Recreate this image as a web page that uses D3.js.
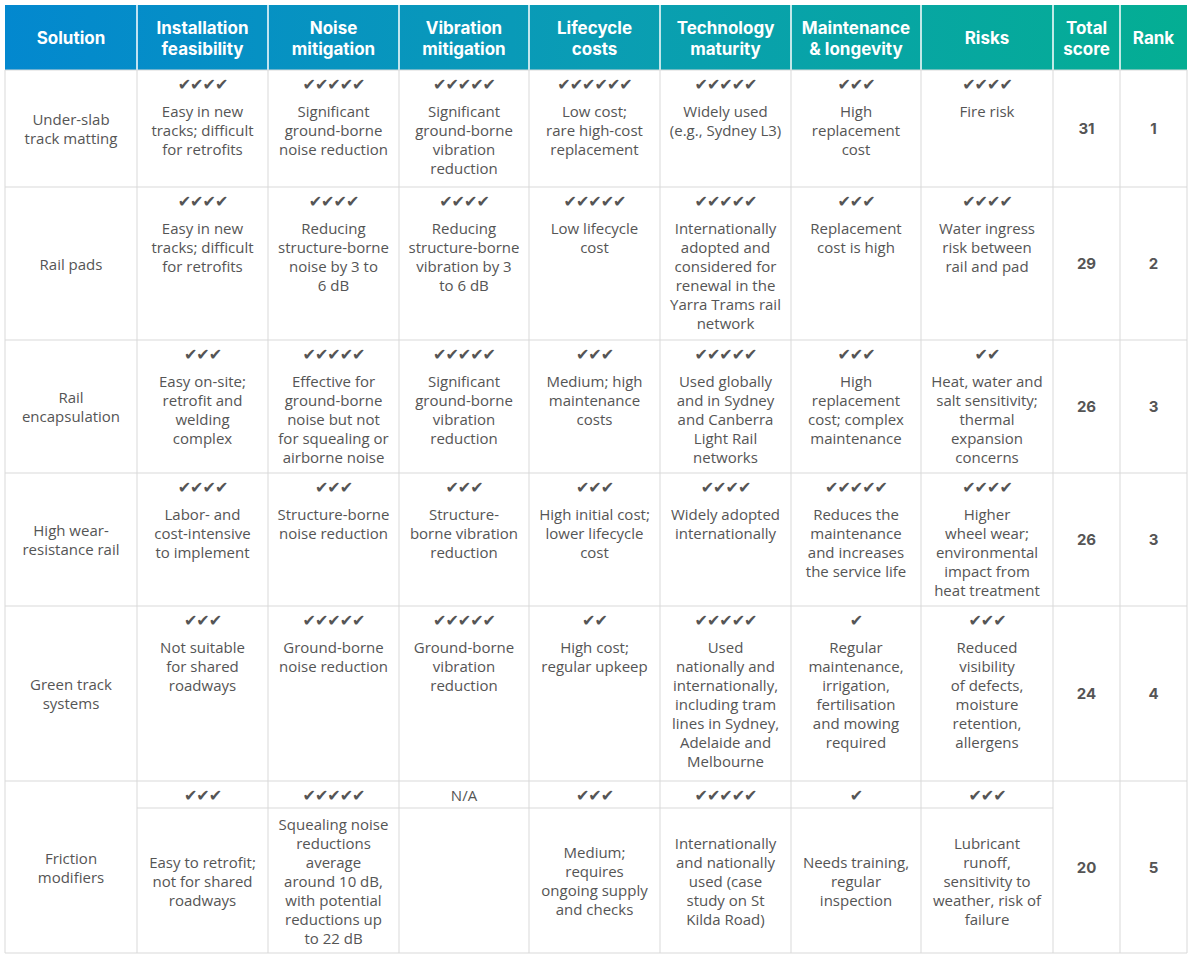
<!DOCTYPE html>
<html><head><meta charset="utf-8">
<script src="https://cdn.jsdelivr.net/npm/d3@7"></script>
<style>body{margin:0;background:#fff}</style>
</head><body><svg id="c" width="1196" height="961"></svg>
<script>
const headers = ["Solution","Installation|feasibility","Noise|mitigation","Vibration|mitigation","Lifecycle|costs","Technology|maturity","Maintenance|& longevity","Risks","Total|score","Rank"];
const solutions = ["Under-slab|track matting","Rail pads","Rail|encapsulation","High wear-|resistance rail","Green track|systems","Friction|modifiers"];
const checks = [
 [4,5,5,6,5,3,4],
 [4,4,4,5,5,3,4],
 [3,5,5,3,5,3,2],
 [4,3,3,3,4,5,4],
 [3,5,5,2,5,1,3],
 [3,5,0,3,5,1,3]
];
const texts = [
 ["Easy in new|tracks; difficult|for retrofits","Significant|ground-borne|noise reduction","Significant|ground-borne|vibration|reduction","Low cost;|rare high-cost|replacement","Widely used|(e.g., Sydney L3)","High|replacement|cost","Fire risk"],
 ["Easy in new|tracks; difficult|for retrofits","Reducing|structure-borne|noise by 3 to|6 dB","Reducing|structure-borne|vibration by 3|to 6 dB","Low lifecycle|cost","Internationally|adopted and|considered for|renewal in the|Yarra Trams rail|network","Replacement|cost is high","Water ingress|risk between|rail and pad"],
 ["Easy on-site;|retrofit and|welding|complex","Effective for|ground-borne|noise but not|for squealing or|airborne noise","Significant|ground-borne|vibration|reduction","Medium; high|maintenance|costs","Used globally|and in Sydney|and Canberra|Light Rail|networks","High|replacement|cost; complex|maintenance","Heat, water and|salt sensitivity;|thermal|expansion|concerns"],
 ["Labor- and|cost-intensive|to implement","Structure-borne|noise reduction","Structure-|borne vibration|reduction","High initial cost;|lower lifecycle|cost","Widely adopted|internationally","Reduces the|maintenance|and increases|the service life","Higher|wheel wear;|environmental|impact from|heat treatment"],
 ["Not suitable|for shared|roadways","Ground-borne|noise reduction","Ground-borne|vibration|reduction","High cost;|regular upkeep","Used|nationally and|internationally,|including tram|lines in Sydney,|Adelaide and|Melbourne","Regular|maintenance,|irrigation,|fertilisation|and mowing|required","Reduced|visibility|of defects,|moisture|retention,|allergens"],
 ["Easy to retrofit;|not for shared|roadways","Squealing noise|reductions|average|around 10 dB,|with potential|reductions up|to 22 dB","","Medium;|requires|ongoing supply|and checks","Internationally|and nationally|used (case|study on St|Kilda Road)","Needs training,|regular|inspection","Lubricant|runoff,|sensitivity to|weather, risk of|failure"]
];
const totals = [31,29,26,26,24,20];
const ranks = [1,2,3,3,4,5];

// layout
const colEdges = [5,137,268,399,529,660,791,921,1053,1120,1187];
const rowEdges = [5,70,187,340,473,606,781,953];
const svg = d3.select("#c");
const defs = svg.append("defs");
const g = defs.append("linearGradient").attr("id","hg").attr("x1","0").attr("x2","1");
g.append("stop").attr("offset","0").attr("stop-color","#0388cf");
g.append("stop").attr("offset","0.5").attr("stop-color","#0a9db4");
g.append("stop").attr("offset","1").attr("stop-color","#04ae93");
const x = i => colEdges[i], w = i => colEdges[i+1]-colEdges[i];
const cx = i => (colEdges[i]+colEdges[i+1])/2;

svg.append("rect").attr("x",5).attr("y",5).attr("width",1182).attr("height",65).attr("fill","url(#hg)");
// header separators
svg.selectAll(".hs").data(colEdges.slice(1,-1)).enter().append("line")
 .attr("x1",d=>d).attr("x2",d=>d).attr("y1",5).attr("y2",70).attr("stroke","#fff").attr("stroke-width",1.5);
const lh=19;
function lines(sel, str, xc, yc, opts){
  const ls=str.split("|"); const y0 = opts.top!==undefined? opts.top : yc-(ls.length-1)*opts.lh/2;
  ls.forEach((l,k)=>sel.append("text").attr("x",xc).attr("y",y0+k*opts.lh).attr("text-anchor","middle")
   .attr("dominant-baseline","central").attr("font-family",opts.ff).attr("font-size",opts.fs)
   .attr("font-weight",opts.fw||400).attr("fill",opts.fill).text(l));
}
headers.forEach((h,i)=>lines(svg,h,cx(i),38,{lh:21,ff:"Inter, sans-serif",fs:17,fw:700,fill:"#fff"}));

// body grid
const grid="#d9d9d9";
svg.selectAll(".rl").data(rowEdges.slice(1)).enter().append("line")
 .attr("x1",5).attr("x2",1187).attr("y1",d=>d).attr("y2",d=>d).attr("stroke",grid);
svg.selectAll(".cl").data(colEdges).enter().append("line")
 .attr("x1",d=>d).attr("x2",d=>d).attr("y1",70).attr("y2",953).attr("stroke",grid);
svg.append("line").attr("x1",137).attr("x2",1053).attr("y1",808).attr("y2",808).attr("stroke",grid);

const tf={lh:lh,ff:"'Open Sans', sans-serif",fs:15,fill:"#555"};
solutions.forEach((s,r)=>{
  const top=rowEdges[r+1], bot=rowEdges[r+2], mid=(top+bot)/2;
  lines(svg,s,cx(0),mid,tf);
  lines(svg,String(totals[r]),cx(8),mid,{...tf,ff:"Inter, sans-serif",fw:700,fill:"#555"});
  lines(svg,String(ranks[r]),cx(9),mid,{...tf,ff:"Inter, sans-serif",fw:700,fill:"#555"});
  const last = r===solutions.length-1;
  checks[r].forEach((n,c)=>{
    const col=c+1;
    const cy = last? 795 : top+14;
    if(n>0) svg.append("text").attr("x",cx(col)).attr("y",cy).attr("text-anchor","middle").attr("dominant-baseline","central")
      .attr("font-family","'DejaVu Sans', sans-serif").attr("font-size",16).attr("fill","#555").attr("letter-spacing",-1).text("✔".repeat(n));
    else svg.append("text").attr("x",cx(col)).attr("y",cy).attr("text-anchor","middle").attr("dominant-baseline","central")
      .attr("font-family","'Open Sans', sans-serif").attr("font-size",15).attr("fill","#555").text("N/A");
    const t=texts[r][c]; if(!t) return;
    if(last) lines(svg,t,cx(col),880.5,tf);
    else lines(svg,t,cx(col),0,{...tf,top:top+41});
  });
});
</script></body></html>
